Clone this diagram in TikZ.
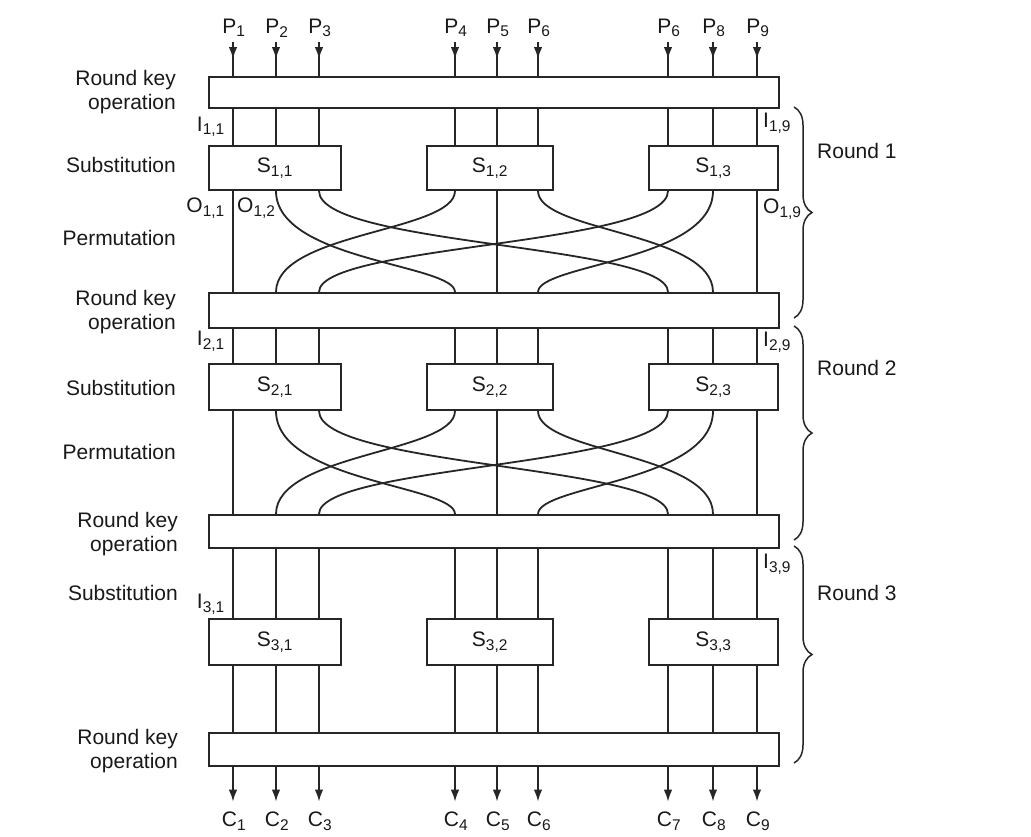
\documentclass[tikz,border=0pt]{standalone}
\usepackage{fontspec}
\setmainfont{Liberation Sans}
\usetikzlibrary{arrows.meta,calc,decorations.pathreplacing,decorations.markings}
\newcommand\lblf{\fontsize{21}{24}\selectfont}
\newcommand\sbs[1]{\textsubscript{\fontsize{15.5}{16}\selectfont #1}}
\begin{document}
\begin{tikzpicture}[x=1pt,y=-1pt,
  every node/.style={font=\lblf, text=black!90},
  wire/.style={line width=1.8pt, draw=black!85},
  keybox/.style={draw=black!85, line width=1.8pt, fill=white, minimum width=570pt, inner sep=0pt},
  sbox/.style={draw=black!85, line width=1.8pt, fill=white, inner sep=0pt},
  sidelbl/.style={anchor=east, align=right, inner sep=0pt},
  ilbl/.style={inner sep=0pt},
  inarrow/.style={wire, shorten <=4pt, postaction={decorate}, decoration={markings, mark=at position 0.55 with {\arrow{Latex[length=12pt,width=8.5pt]}}}},
  outarrow/.style={wire, shorten >=9pt, -{Latex[length=12pt,width=8.5pt]}},
  roundbrace/.style={draw=black!85, line width=1.5pt, decorate, decoration={brace, amplitude=18pt}},
]
\useasboundingbox (0,0) rectangle (1031,836);
\fill[white] (0,0) rectangle (1031,836);

% wire x positions
\coordinate (w1) at (233,0);
\coordinate (w2) at (276,0);
\coordinate (w3) at (319,0);
\coordinate (w4) at (455,0);
\coordinate (w5) at (497,0);
\coordinate (w6) at (538,0);
\coordinate (w7) at (668,0);
\coordinate (w8) at (713,0);
\coordinate (w9) at (757,0);

% round key boxes
\node[keybox, minimum height=31pt] (K1) at (494,92.5) {};
\node[keybox, minimum height=35pt] (K2) at (494,310.5) {};
\node[keybox, minimum height=33pt] (K3) at (494,531.5) {};
\node[keybox, minimum height=33pt] (K4) at (494,749.5) {};

% S boxes
\node[sbox, minimum width=132pt, minimum height=44pt] (S11) at (275,168) {S\sbs{1,1}};
\node[sbox, minimum width=126pt, minimum height=44pt] (S12) at (490,168) {S\sbs{1,2}};
\node[sbox, minimum width=129pt, minimum height=44pt] (S13) at (713.5,168) {S\sbs{1,3}};
\node[sbox, minimum width=132pt, minimum height=46pt] (S21) at (275,387) {S\sbs{2,1}};
\node[sbox, minimum width=126pt, minimum height=46pt] (S22) at (490,387) {S\sbs{2,2}};
\node[sbox, minimum width=129pt, minimum height=46pt] (S23) at (713.5,387) {S\sbs{2,3}};
\node[sbox, minimum width=132pt, minimum height=46pt] (S31) at (275,642) {S\sbs{3,1}};
\node[sbox, minimum width=126pt, minimum height=46pt] (S32) at (490,642) {S\sbs{3,2}};
\node[sbox, minimum width=129pt, minimum height=46pt] (S33) at (713.5,642) {S\sbs{3,3}};

% side labels
\node[sidelbl] (L1) at (176,92) {Round key\\operation};
\node[sidelbl] (L2) at (176,165) {Substitution};
\node[sidelbl] (L3) at (176,238) {Permutation};
\node[sidelbl] (L4) at (176,312) {Round key\\operation};
\node[sidelbl] (L5) at (176,388) {Substitution};
\node[sidelbl] (L6) at (176,452) {Permutation};
\node[sidelbl] (L7) at (178,534) {Round key\\operation};
\node[sidelbl] (L8) at (178,593) {Substitution};
\node[sidelbl] (L9) at (178,751) {Round key\\operation};

% plaintext inputs
\node[inner sep=1pt] (P1) at (234,28) {P\sbs{1}};
\node[inner sep=1pt] (P2) at (277,28) {P\sbs{2}};
\node[inner sep=1pt] (P3) at (320,28) {P\sbs{3}};
\node[inner sep=1pt] (P4) at (456,28) {P\sbs{4}};
\node[inner sep=1pt] (P5) at (498,28) {P\sbs{5}};
\node[inner sep=1pt] (P6) at (539,28) {P\sbs{6}};
\node[inner sep=1pt] (P7) at (669,28) {P\sbs{6}};
\node[inner sep=1pt] (P8) at (714,28) {P\sbs{8}};
\node[inner sep=1pt] (P9) at (758,28) {P\sbs{9}};
\foreach \i in {1,...,9} {\draw[inarrow] (P\i.south -| w\i) -- (K1.north -| w\i);}

% ciphertext outputs
\node[inner sep=1pt] (C1) at (234,821) {C\sbs{1}};
\node[inner sep=1pt] (C2) at (277,821) {C\sbs{2}};
\node[inner sep=1pt] (C3) at (320,821) {C\sbs{3}};
\node[inner sep=1pt] (C4) at (456,821) {C\sbs{4}};
\node[inner sep=1pt] (C5) at (498,821) {C\sbs{5}};
\node[inner sep=1pt] (C6) at (539,821) {C\sbs{6}};
\node[inner sep=1pt] (C7) at (669,821) {C\sbs{7}};
\node[inner sep=1pt] (C8) at (714,821) {C\sbs{8}};
\node[inner sep=1pt] (C9) at (758,821) {C\sbs{9}};
\foreach \i in {1,...,9} {\draw[outarrow] (K4.south -| w\i) -- (C\i.north -| w\i);}

% straight wires
\foreach \i/\s in {1/1,2/1,3/1,4/2,5/2,6/2,7/3,8/3,9/3} {
  \draw[wire] (K1.south -| w\i) -- (S1\s.north -| w\i);
  \draw[wire] (K2.south -| w\i) -- (S2\s.north -| w\i);
  \draw[wire] (K3.south -| w\i) -- (S3\s.north -| w\i);
  \draw[wire] (S3\s.south -| w\i) -- (K4.north -| w\i);
  \coordinate (a\i) at (S1\s.south -| w\i);
  \coordinate (b\i) at (K2.north -| w\i);
  \coordinate (c\i) at (S2\s.south -| w\i);
  \coordinate (d\i) at (K3.north -| w\i);
}

% permutation, round 1
\draw[wire] (a1) -- (b1);
\draw[wire] (a5) -- (b5);
\draw[wire] (a9) -- (b9);
\draw[wire] (a2) .. controls ($(a2)+(0,70)$) and ($(b4)+(0,-28)$) .. (b4);
\draw[wire] (a4) .. controls ($(a4)+(0,41)$) and ($(b2)+(0,-60)$) .. (b2);
\draw[wire] (a3) .. controls ($(a3)+(0,55)$) and ($(b7)+(0,-48)$) .. (b7);
\draw[wire] (a7) .. controls ($(a7)+(0,55)$) and ($(b3)+(0,-48)$) .. (b3);
\draw[wire] (a6) .. controls ($(a6)+(0,41)$) and ($(b8)+(0,-60)$) .. (b8);
\draw[wire] (a8) .. controls ($(a8)+(0,70)$) and ($(b6)+(0,-28)$) .. (b6);

% permutation, round 2
\draw[wire] (c1) -- (d1);
\draw[wire] (c5) -- (d5);
\draw[wire] (c9) -- (d9);
\draw[wire] (c2) .. controls ($(c2)+(0,71)$) and ($(d4)+(0,-29)$) .. (d4);
\draw[wire] (c4) .. controls ($(c4)+(0,42)$) and ($(d2)+(0,-61)$) .. (d2);
\draw[wire] (c3) .. controls ($(c3)+(0,56)$) and ($(d7)+(0,-49)$) .. (d7);
\draw[wire] (c7) .. controls ($(c7)+(0,56)$) and ($(d3)+(0,-49)$) .. (d3);
\draw[wire] (c6) .. controls ($(c6)+(0,42)$) and ($(d8)+(0,-61)$) .. (d8);
\draw[wire] (c8) .. controls ($(c8)+(0,71)$) and ($(d6)+(0,-29)$) .. (d6);

% wire labels
\node[ilbl, anchor=east] (I11) at (225,127) {I\sbs{1,1}};
\node[ilbl, anchor=west] (I19) at (763,123) {I\sbs{1,9}};
\node[ilbl, anchor=east] (O11) at (225,208) {O\sbs{1,1}};
\node[ilbl, anchor=west] (O12) at (237,208) {O\sbs{1,2}};
\node[ilbl, anchor=west] (O19) at (763,209) {O\sbs{1,9}};
\node[ilbl, anchor=east] (I21) at (225,341) {I\sbs{2,1}};
\node[ilbl, anchor=west] (I29) at (763,342) {I\sbs{2,9}};
\node[ilbl, anchor=east] (I31) at (225,604) {I\sbs{3,1}};
\node[ilbl, anchor=west] (I39) at (763,564) {I\sbs{3,9}};

% round braces
\coordinate (br1a) at (794,107);
\coordinate (br1b) at (794,318);
\coordinate (br2a) at (794,326);
\coordinate (br2b) at (794,540);
\coordinate (br3a) at (794,546);
\coordinate (br3b) at (794,763);
\draw[roundbrace] (br1a) -- (br1b);
\draw[roundbrace] (br2a) -- (br2b);
\draw[roundbrace] (br3a) -- (br3b);
\node[anchor=west, inner sep=0pt] (R1) at (817,151) {Round 1};
\node[anchor=west, inner sep=0pt] (R2) at (817,368) {Round 2};
\node[anchor=west, inner sep=0pt] (R3) at (817,593) {Round 3};
\end{tikzpicture}
\end{document}
